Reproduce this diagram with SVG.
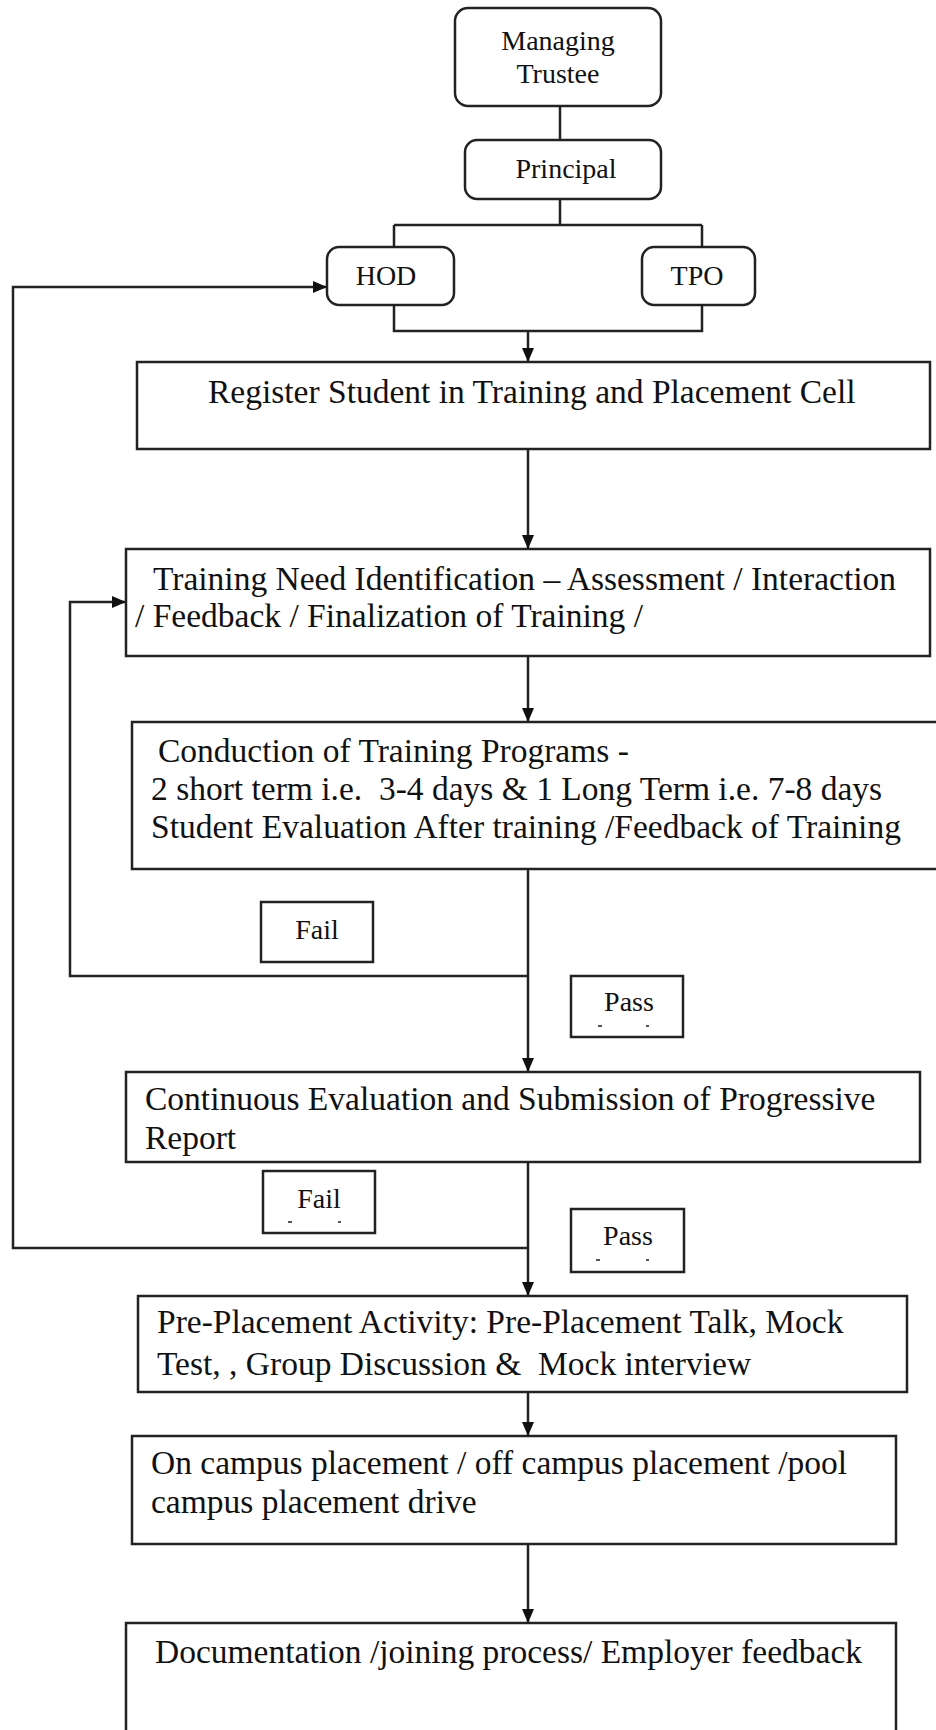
<svg xmlns="http://www.w3.org/2000/svg" width="936" height="1730" viewBox="0 0 936 1730">
<style>
.box{fill:#fff;stroke:#222;stroke-width:2.5}
.ln{fill:none;stroke:#222;stroke-width:2.5}
.t{font-family:"Liberation Serif","Times New Roman",serif;fill:#111;font-size:33.5px}
.s{font-family:"Liberation Serif","Times New Roman",serif;fill:#111;font-size:28px;text-anchor:middle}
.dot{fill:#555}
</style>
<defs>
<marker id="arr" markerUnits="userSpaceOnUse" markerWidth="14" markerHeight="12" refX="14" refY="6" orient="auto">
<path d="M0,0 L14,6 L0,12 z" fill="#111"/>
</marker>
</defs>
<rect width="936" height="1730" fill="#fff"/>

<g id="connectors">
<path class="ln" d="M560,106 V140"/>
<path class="ln" d="M560,199 V225 M394,225 H702 M394,225 V247 M702,225 V247"/>
<path class="ln" d="M394,305 V331 H702 V305"/>
<path class="ln" d="M528,331 V362" marker-end="url(#arr)"/>
<path class="ln" d="M528,449 V549" marker-end="url(#arr)"/>
<path class="ln" d="M528,656 V722" marker-end="url(#arr)"/>
<path class="ln" d="M528,869 V1072" marker-end="url(#arr)"/>
<path class="ln" d="M528,976 H70 V602 H126" marker-end="url(#arr)"/>
<path class="ln" d="M528,1162 V1296" marker-end="url(#arr)"/>
<path class="ln" d="M528,1248 H13 V287 H327" marker-end="url(#arr)"/>
<path class="ln" d="M528,1392 V1436" marker-end="url(#arr)"/>
<path class="ln" d="M528,1544 V1623" marker-end="url(#arr)"/>
</g>

<g id="managing-trustee">
<rect class="box" x="455" y="8" width="206" height="98" rx="13"/>
<text class="s" x="558" y="50">Managing</text>
<text class="s" x="558" y="83">Trustee</text>
</g>

<g id="principal">
<rect class="box" x="465" y="140" width="196" height="59" rx="12"/>
<text class="s" x="566" y="178">Principal</text>
</g>

<g id="hod">
<rect class="box" x="327" y="247" width="127" height="58" rx="12"/>
<text class="s" x="386" y="285">HOD</text>
</g>

<g id="tpo">
<rect class="box" x="642" y="247" width="113" height="58" rx="12"/>
<text class="s" x="697" y="285">TPO</text>
</g>

<g id="register">
<rect class="box" x="137" y="362" width="793" height="87"/>
<text class="t" x="208" y="403">Register Student in Training and Placement Cell</text>
</g>

<g id="training-need">
<rect class="box" x="126" y="549" width="804" height="107"/>
<text class="t" x="153" y="590">Training Need Identification – Assessment / Interaction</text>
<text class="t" x="135" y="627">/ Feedback / Finalization of Training /</text>
</g>

<g id="conduction">
<rect class="box" x="132" y="722" width="810" height="147"/>
<text class="t" x="158" y="762">Conduction of Training Programs -</text>
<text class="t" x="151" y="800" xml:space="preserve">2 short term i.e.  3-4 days &amp; 1 Long Term i.e. 7-8 days</text>
<text class="t" x="151" y="838">Student Evaluation After training /Feedback of Training</text>
</g>

<g id="fail-1">
<rect class="box" x="261" y="902" width="112" height="60"/>
<text class="s" x="317" y="939">Fail</text>
</g>

<g id="pass-1">
<rect class="box" x="571" y="976" width="112" height="61"/>
<text class="s" x="629" y="1011">Pass</text>
<rect class="dot" x="598" y="1025" width="4" height="2"/>
<rect class="dot" x="646" y="1025" width="3" height="2"/>
</g>

<g id="continuous">
<rect class="box" x="126" y="1072" width="794" height="90"/>
<text class="t" x="145" y="1110">Continuous Evaluation and Submission of Progressive</text>
<text class="t" x="145" y="1149">Report</text>
</g>

<g id="fail-2">
<rect class="box" x="263" y="1171" width="112" height="62"/>
<text class="s" x="319" y="1208">Fail</text>
<rect class="dot" x="288" y="1221" width="4" height="2"/>
<rect class="dot" x="338" y="1221" width="3" height="2"/>
</g>

<g id="pass-2">
<rect class="box" x="571" y="1209" width="113" height="63"/>
<text class="s" x="628" y="1245">Pass</text>
<rect class="dot" x="596" y="1259" width="4" height="2"/>
<rect class="dot" x="646" y="1259" width="3" height="2"/>
</g>

<g id="pre-placement">
<rect class="box" x="138" y="1296" width="769" height="96"/>
<text class="t" x="157" y="1333">Pre-Placement Activity: Pre-Placement Talk, Mock</text>
<text class="t" x="157" y="1375" xml:space="preserve">Test, , Group Discussion &amp;  Mock interview</text>
</g>

<g id="campus-placement">
<rect class="box" x="132" y="1436" width="764" height="108"/>
<text class="t" x="151" y="1474">On campus placement / off campus placement /pool</text>
<text class="t" x="151" y="1513">campus placement drive</text>
</g>

<g id="documentation">
<rect class="box" x="126" y="1623" width="770" height="130"/>
<text class="t" x="155" y="1663">Documentation /joining process/ Employer feedback</text>
</g>
</svg>
